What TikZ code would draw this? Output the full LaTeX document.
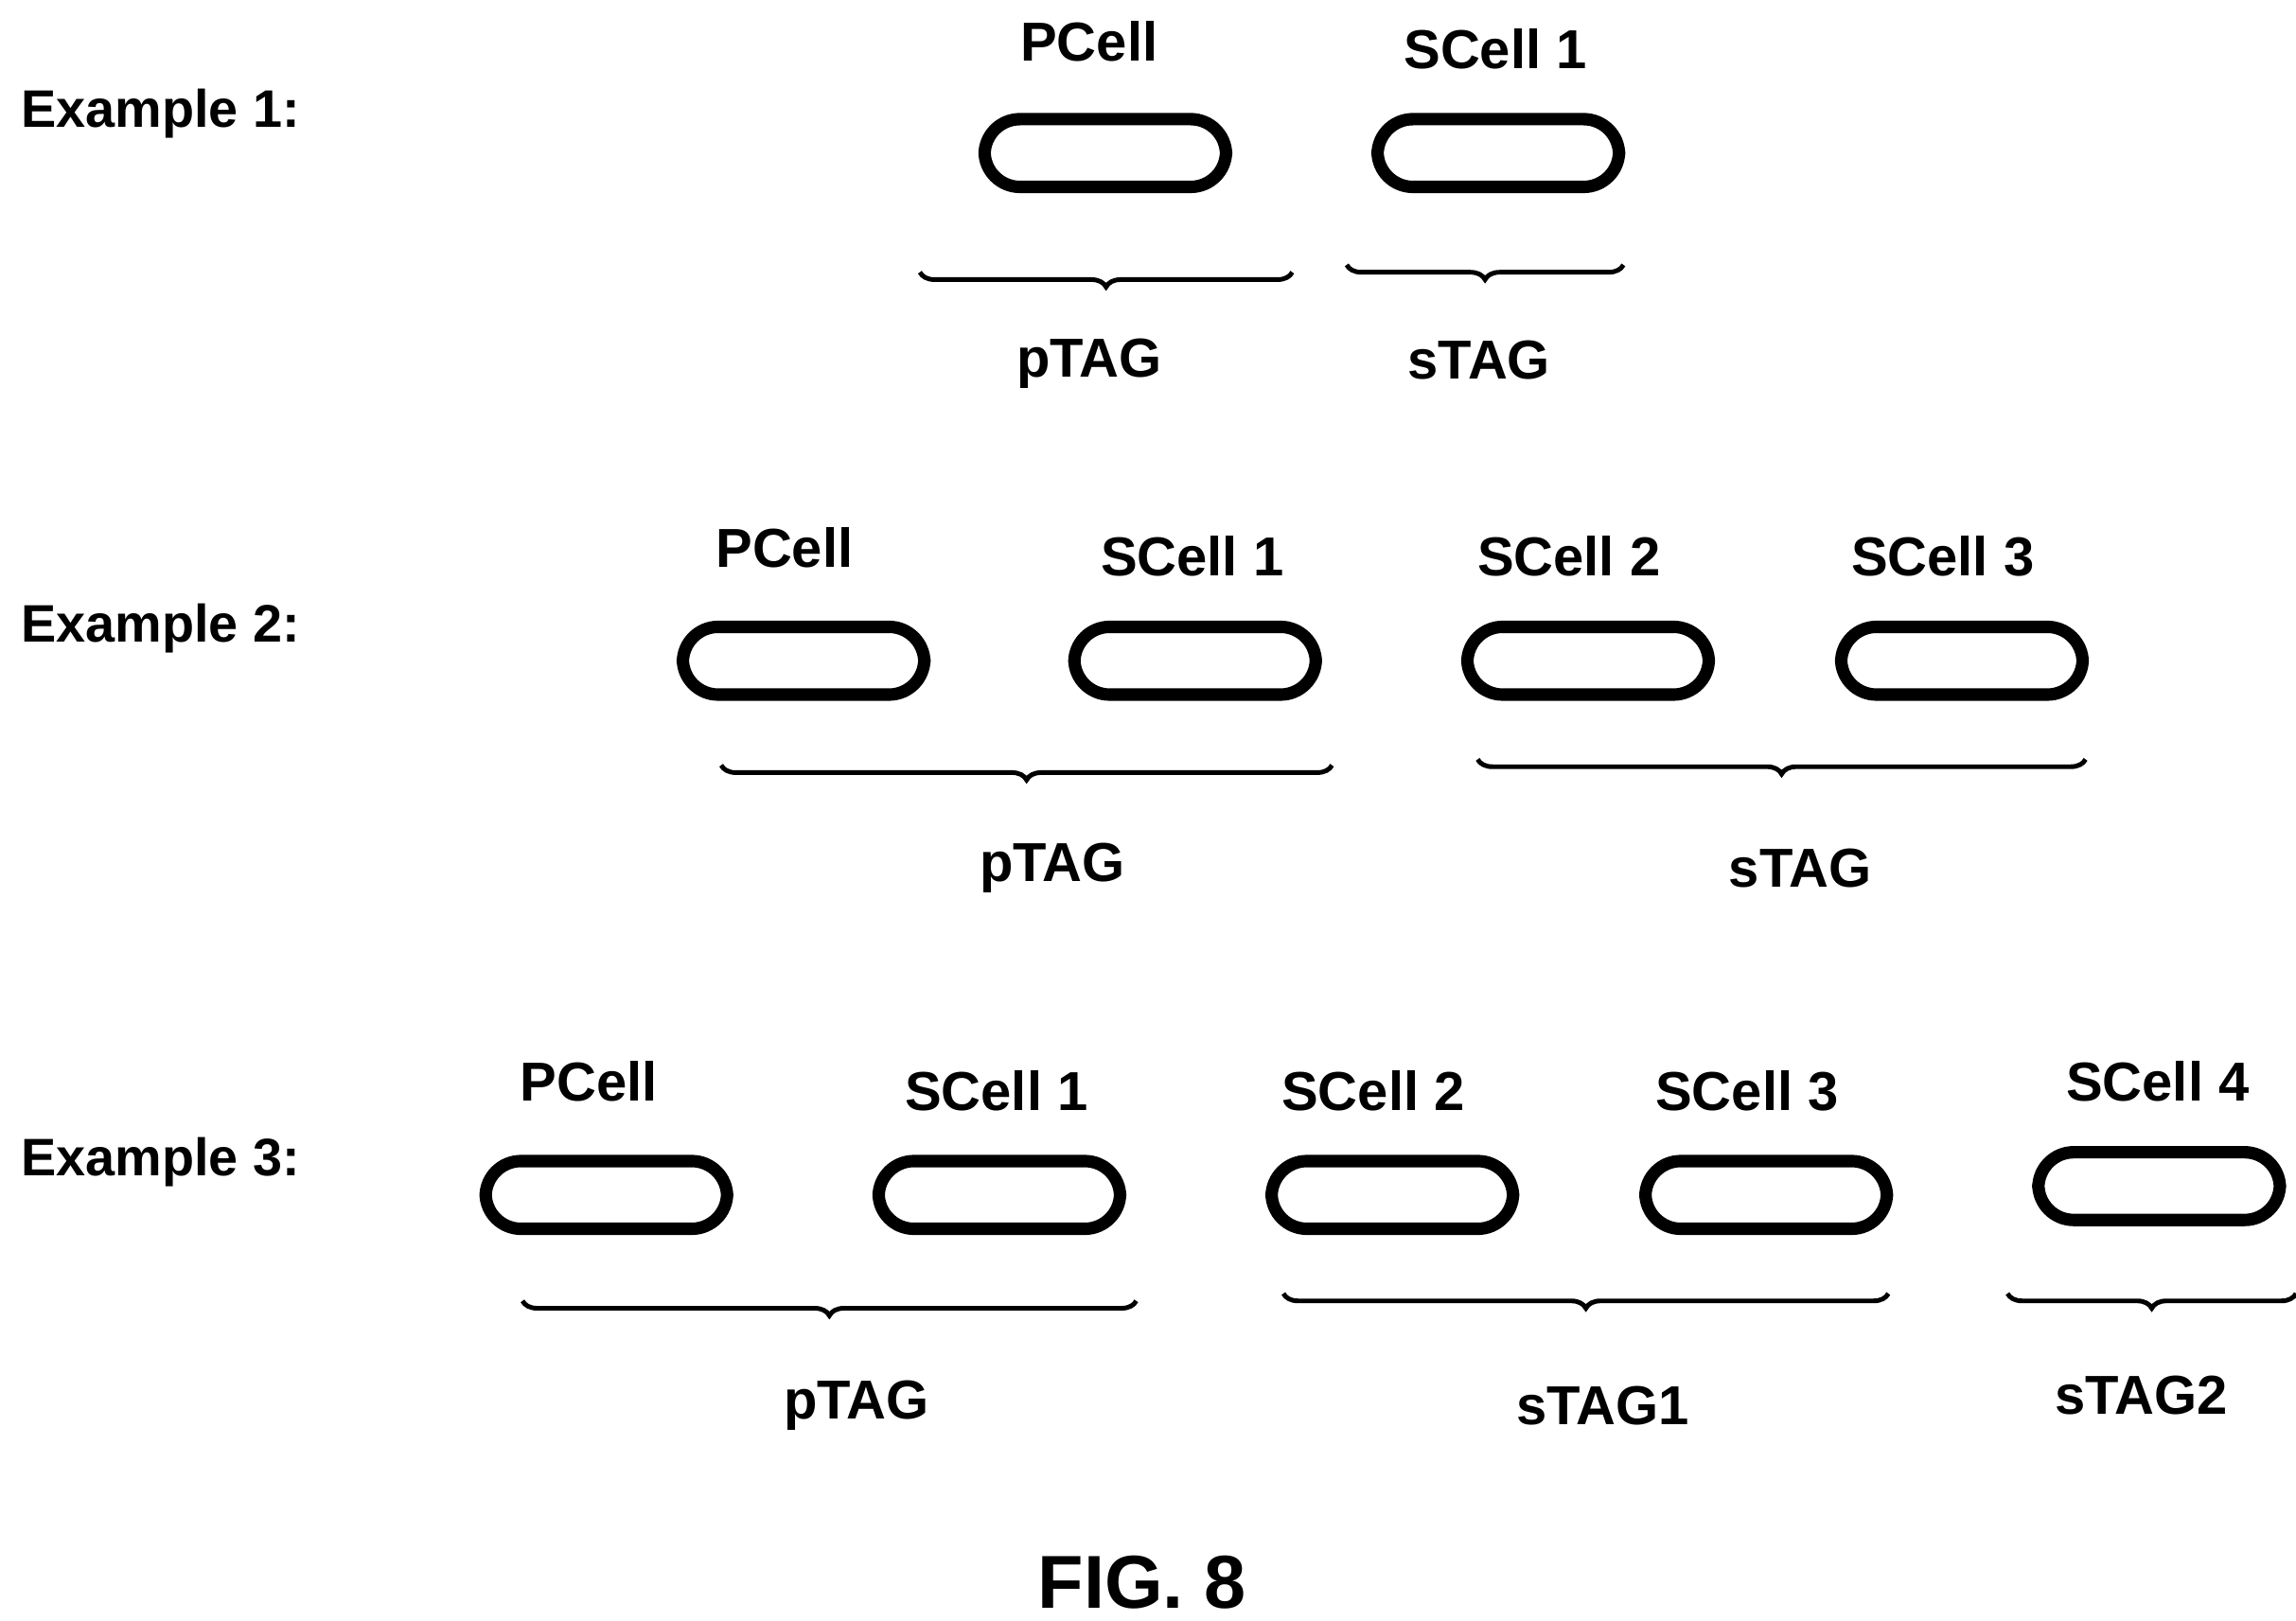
\documentclass[tikz,border=0pt]{standalone}
\usepackage{fontspec}
\setmainfont{Liberation Sans}
\usetikzlibrary{decorations.pathreplacing}

\tikzset{
  cell/.style={draw,line width=2.4pt,rounded corners=0.24cm,minimum width=1.64cm,minimum height=0.46cm},
  lbl/.style={font=\bfseries\fontsize{10.6}{13}\selectfont},
  ex/.style={font=\bfseries\fontsize{10.2}{12}\selectfont,anchor=west},
  grp/.style={decorate,decoration={brace,amplitude=0.1cm},line width=0.9pt}
}

\begin{document}
\begin{tikzpicture}[x=0.01cm,y=-0.01cm]
\useasboundingbox (0,0) rectangle (1560,1101);

% Example 1
\node[ex] (ex1) at (2,77) {Example 1:};
\node[cell] (c1p) at (751,104) {};
\node[cell] (c1s1) at (1018,104) {};
\node[lbl] (l1p) at (740,28) {PCell};
\node[lbl] (l1s1) at (1016,33) {SCell 1};
\coordinate (b1a) at (878,185); \coordinate (b1b) at (625,185);
\coordinate (b1c) at (1103,180); \coordinate (b1d) at (915,180);
\draw[grp] (b1a) -- (b1b);
\draw[grp] (b1c) -- (b1d);
\node[lbl] (t1p) at (740,247) {pTAG};
\node[lbl] (t1s) at (1005,245) {sTAG};

% Example 2
\node[ex] (ex2) at (2,427) {Example 2:};
\node[cell] (c2p) at (546,449) {};
\node[cell] (c2s1) at (812,449) {};
\node[cell] (c2s2) at (1079,449) {};
\node[cell] (c2s3) at (1333,449) {};
\node[lbl] (l2p) at (533,372) {PCell};
\node[lbl] (l2s1) at (810,378) {SCell 1};
\node[lbl] (l2s2) at (1066,378) {SCell 2};
\node[lbl] (l2s3) at (1320,378) {SCell 3};
\coordinate (b2a) at (905,520); \coordinate (b2b) at (490,520);
\coordinate (b2c) at (1417,516); \coordinate (b2d) at (1004,516);
\draw[grp] (b2a) -- (b2b);
\draw[grp] (b2c) -- (b2d);
\node[lbl] (t2p) at (715,590) {pTAG};
\node[lbl] (t2s) at (1223,590) {sTAG};

% Example 3
\node[ex] (ex3) at (2,790) {Example 3:};
\node[cell] (c3p) at (412,812) {};
\node[cell] (c3s1) at (679,812) {};
\node[cell] (c3s2) at (946,812) {};
\node[cell] (c3s3) at (1200,812) {};
\node[cell] (c3s4) at (1467,806) {};
\node[lbl] (l3p) at (400,735) {PCell};
\node[lbl] (l3s1) at (677,741) {SCell 1};
\node[lbl] (l3s2) at (933,741) {SCell 2};
\node[lbl] (l3s3) at (1187,741) {SCell 3};
\node[lbl] (l3s4) at (1466,735) {SCell 4};
\coordinate (b3a) at (772,884); \coordinate (b3b) at (355,884);
\coordinate (b3c) at (1283,879); \coordinate (b3d) at (872,879);
\coordinate (b3e) at (1560,879); \coordinate (b3f) at (1364,879);
\draw[grp] (b3a) -- (b3b);
\draw[grp] (b3c) -- (b3d);
\draw[grp] (b3e) -- (b3f);
\node[lbl] (t3p) at (582,955) {pTAG};
\node[lbl] (t3s1) at (1089,955) {sTAG1};
\node[lbl] (t3s2) at (1455,948) {sTAG2};

\node[font=\bfseries\fontsize{14.5}{18}\selectfont] (fig) at (776,1075) {FIG. 8};
\end{tikzpicture}
\end{document}
